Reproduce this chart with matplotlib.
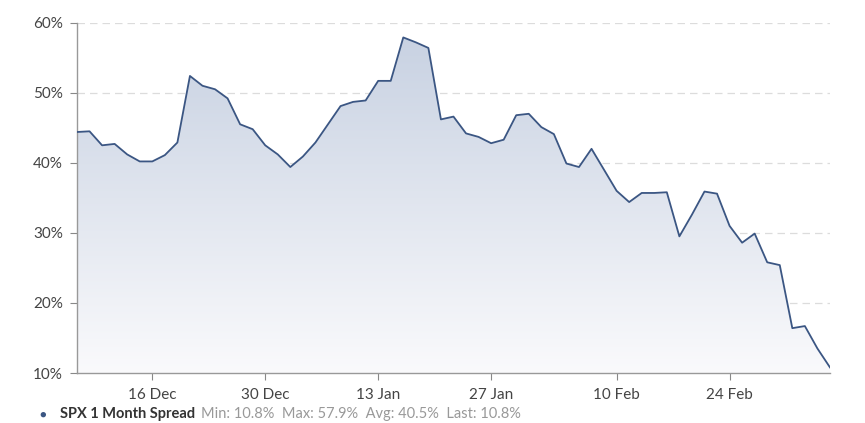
import numpy as np
import pandas as pd
import matplotlib
matplotlib.use("Agg")
import matplotlib.pyplot as plt
from matplotlib.colors import LinearSegmentedColormap

# trading days shown on the (ordinal) x axis
holidays = ["2019-12-25", "2020-01-01", "2020-01-20", "2020-02-17"]
dates = pd.bdate_range("2019-12-06", "2020-03-05", freq="C", holidays=holidays)

spread = [44.4, 44.5, 42.5, 42.7, 41.2, 40.2, 40.2, 41.1, 42.9, 52.4,
          51.0, 50.5, 49.2, 45.5, 44.8, 42.5, 41.2, 39.4, 40.9, 42.9,
          45.5, 48.1, 48.7, 48.9, 51.7, 51.7, 57.9, 57.2, 56.4, 46.2,
          46.6, 44.2, 43.7, 42.8, 43.3, 46.8, 47.0, 45.1, 44.1, 39.9,
          39.4, 42.0, 39.0, 36.0, 34.4, 35.7, 35.7, 35.8, 29.5, 32.6,
          35.9, 35.6, 31.0, 28.6, 29.9, 25.8, 25.4, 16.4, 16.7, 13.5, 10.8]

tick_dates = ["2019-12-16", "2019-12-30", "2020-01-13", "2020-01-27",
              "2020-02-10", "2020-02-24"]
tick_labels = ["16 Dec", "30 Dec", "13 Jan", "27 Jan", "10 Feb", "24 Feb"]
y_ticks = [10, 20, 30, 40, 50, 60]

series_name = "SPX 1 Month Spread"
stat_names = ["Min", "Max", "Avg", "Last"]
stat_values = [10.8, 57.9, 40.5, 10.8]  # as printed in the legend

plt.rcParams["font.family"] = ["Lato", "DejaVu Sans"]

x = np.arange(len(dates))
y = np.array(spread)

fig = plt.figure(figsize=(8.65, 4.23), dpi=100)
ax = fig.add_axes([0.089, 0.1182, 0.8705, 0.8281])
ax.set_xlim(0, len(dates) - 1)
ax.set_ylim(10, 60)

# gradient area under the line
poly = ax.fill_between(x, y, 10, color="none", lw=0)
cmap = LinearSegmentedColormap.from_list("g", ["#fafafc", "#c6d0e1"])
grad = np.linspace(0, 1, 256).reshape(-1, 1)
img = ax.imshow(grad, cmap=cmap, origin="lower", aspect="auto",
                extent=[0, len(dates) - 1, 10, 60], zorder=1)
img.set_clip_path(poly.get_paths()[0], transform=ax.transData)

ax.plot(x, y, color="#3b5683", lw=1.3, zorder=3)

# grid
for v in y_ticks[1:]:
    ax.axhline(v, color="#dcdcdc", lw=0.9, ls=(0, (6, 4)), zorder=0.5)

ax.set_yticks(y_ticks)
ax.set_yticklabels([f"{v}%" for v in y_ticks])
ax.set_xticks([dates.get_loc(pd.Timestamp(d)) for d in tick_dates])
ax.set_xticklabels(tick_labels)
ax.tick_params(axis="both", labelsize=11, colors="#888888", labelcolor="#444444",
               length=5, width=0.8)
ax.tick_params(axis="y", pad=5)
ax.tick_params(axis="x", pad=6)

for s in ["top", "right"]:
    ax.spines[s].set_visible(False)
for s in ["left", "bottom"]:
    ax.spines[s].set_color("#999999")
    ax.spines[s].set_linewidth(1.0)

# legend row at the bottom edge
ly = 1 - 414 / 423
fig.text(43 / 865, ly, "\u25CF", color="#3b5683", fontsize=8,
         ha="center", va="center")
fig.text(60 / 865, ly, series_name, color="#333333",
         fontsize=10.5, fontweight="bold", ha="left", va="center")
fig.text(201 / 865, ly,
         "  ".join(f"{n}: {v:.1f}%" for n, v in zip(stat_names, stat_values)),
         color="#999999", fontsize=10.5, ha="left", va="center")

fig.savefig("out.png", dpi=100)
